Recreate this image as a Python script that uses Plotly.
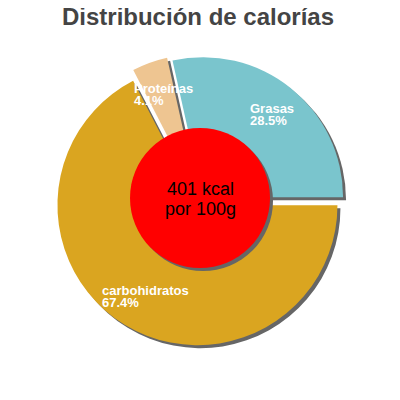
import math

import plotly.graph_objects as go


# Chart data
labels = ["Grasas", "carbohidratos", "Proteínas"]
shares = [28.5, 67.4, 4.1]
center_lines = ["401 kcal", "por 100g"]
title_text = "Distribución de calorías"

# Styling
slice_colors = ["#7AC5CD", "#DAA520", "#EEC591"]
slice_pulls = [0.035, 0.035, 0.05]
SHADOW_COLOR = "#666666"
FONT = "Liberation Sans, Arial, sans-serif"

# The page body has an 8px margin, so the figure is 392px and every
# position below is given in window pixels and shifted by OFF.
OFF = 8
W = H = 400 - OFF
CX, CY = 200, 201      # pie centre (window px)
R = 140                # pie radius in px
SHADOW = 3             # shadow offset in px
HOLE_R = 70            # red disc radius in px
HOLE_CX, HOLE_CY = 200, 198


def px(x):
    return (x - OFF) / W


def py(y):
    return 1 - (y - OFF) / H


def px_domain(cx, cy, half):
    """Domain dict for a pie box centred at (cx, cy) in window pixels."""
    return dict(x=[px(cx - half), px(cx + half)], y=[py(cy + half), py(cy - half)])


def text_width(s, size):
    # rough Arial bold advance widths
    w = 0
    for ch in s:
        if ch in "iljíI.,":
            w += 0.28
        elif ch in "rtf":
            w += 0.37
        elif ch == "%":
            w += 0.89
        elif ch.isupper():
            w += 0.70
        else:
            w += 0.57
    return w * size


def add_label(fig, cx, cy, name, pct, size=13, gap=12):
    """Two-line left aligned white label centred on (cx, cy)."""
    left = cx - max(text_width(name, size), text_width(pct, size)) / 2
    for txt, y in [(name, cy - gap / 2), (pct, cy + gap / 2)]:
        fig.add_annotation(
            x=px(left), y=py(y), xref="paper", yref="paper",
            text=f"<b>{txt}</b>", showarrow=False,
            xanchor="left", yanchor="middle",
            font=dict(family=FONT, size=size, color="white"),
        )


total = sum(shares)
rotation = 90 - 360 * shares[0] / total
half = R * (1 + max(slice_pulls))

fig = go.Figure()

# Shadow pie underneath
fig.add_trace(go.Pie(
    labels=labels, values=shares, sort=False, direction="clockwise",
    rotation=rotation, pull=slice_pulls, textinfo="none",
    marker=dict(colors=[SHADOW_COLOR] * len(shares), line=dict(width=0)),
    domain=px_domain(CX + SHADOW, CY + SHADOW, half),
    hoverinfo="skip", showlegend=False,
))

# Main pie
fig.add_trace(go.Pie(
    labels=labels, values=shares, sort=False, direction="clockwise",
    rotation=rotation, pull=slice_pulls, textinfo="none",
    marker=dict(colors=slice_colors, line=dict(width=0)),
    domain=px_domain(CX, CY, half),
    hoverinfo="label+percent", showlegend=False,
))

# Slice labels along each slice's mid angle
cum = 0
for lab, val, pull in zip(labels, shares, slice_pulls):
    a0 = rotation + 360 * cum / total
    a1 = a0 + 360 * val / total
    cum += val
    m = math.radians((a0 + a1) / 2)
    vx = CX + pull * R * math.sin(m)
    vy = CY - pull * R * math.cos(m)
    lx = vx + 0.76 * R * math.sin(m)
    ly = vy - 0.76 * R * math.cos(m)
    add_label(fig, lx, ly, lab, f"{val / total * 100:.1f}%")

# Red centre disc with shadow
for d, col in [(SHADOW, SHADOW_COLOR), (0, "#FF0000")]:
    fig.add_shape(
        type="circle", xref="paper", yref="paper", layer="above",
        x0=px(HOLE_CX + d - HOLE_R), x1=px(HOLE_CX + d + HOLE_R),
        y0=py(HOLE_CY + d + HOLE_R), y1=py(HOLE_CY + d - HOLE_R),
        fillcolor=col, line=dict(width=0),
    )

for txt, y in [(center_lines[0], 188.5), (center_lines[1], 208.5)]:
    fig.add_annotation(
        x=px(HOLE_CX), y=py(y), xref="paper", yref="paper",
        text=txt, showarrow=False, xanchor="center", yanchor="middle",
        font=dict(family=FONT, size=18, color="black"),
    )

fig.update_layout(
    title=dict(text=f"<b>{title_text}</b>", x=px(198), xanchor="center",
               y=py(17), yanchor="middle", yref="container",
               font=dict(family=FONT, size=24, color="#444444")),
    width=W, height=H,
    margin=dict(l=0, r=0, t=0, b=0),
    paper_bgcolor="white", plot_bgcolor="white",
    showlegend=False,
)

fig.write_html("out.html")
